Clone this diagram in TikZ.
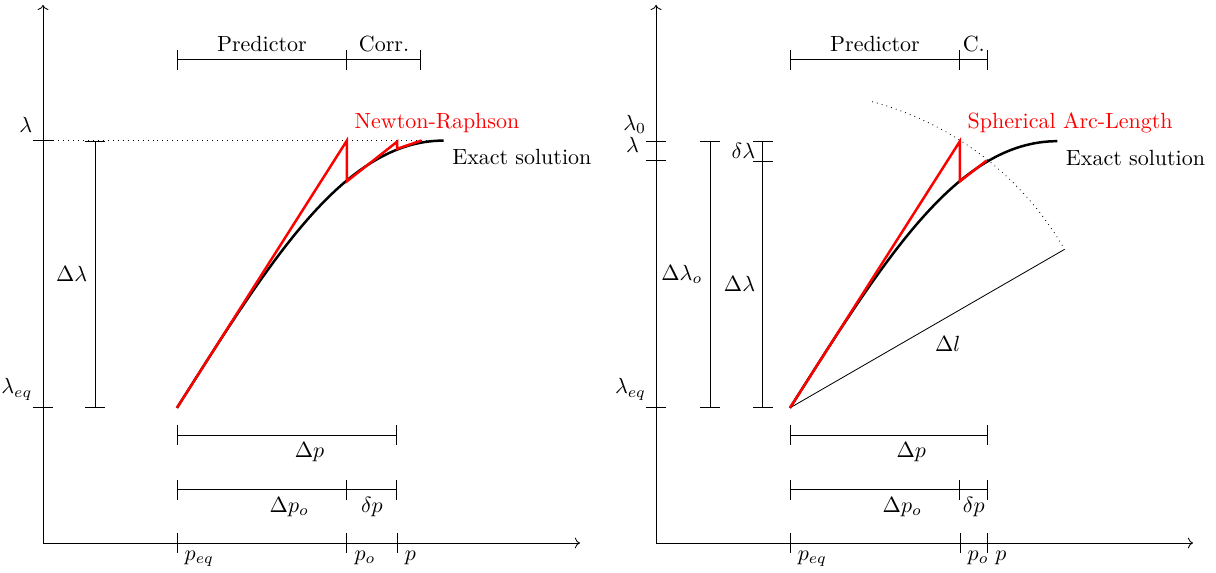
\documentclass[tikz,border=0pt]{standalone}
\usetikzlibrary{arrows.meta}
\tikzset{
  dimen/.style={{Bar[width=9.6pt]}-{Bar[width=9.6pt]}},
  dimenr/.style={-{Bar[width=9.6pt]}},
  solution/.style={very thick},
  iterate/.style={very thick,red},
  every node/.append style={scale=1.06},
}
\begin{document}
\begin{tikzpicture}
\useasboundingbox (-0.729,-0.4915) rectangle (19.88,9.203);
% Newton-Raphson
\coordinate (peq) at (2.27,2.29);
\draw[->] (0,0) -- (9.1,0);
\draw[->] (0,0) -- (0,9.12);
\draw (-.17,6.82) -- (.17,6.82) (-.05,6.82) node[above left] (lam) {$\lambda$};
\draw (-.17,2.29) -- (.17,2.29) (-.05,2.29) node[above left] (lameq) {$\lambda_{eq}$};
\draw[dotted] (0,6.82) -- (6.79,6.82);
\draw[dimen] (.88,2.29) -- node[left] (dlam) {$\Delta\lambda$} (.88,6.82);
\draw[solution] (peq) .. controls (3.856,4.786) and (5.095,6.82) .. (6.79,6.82) node[below right] (exact) {Exact solution};
\draw[iterate] (peq) -- (5.15,6.82) -- (5.15,6.13) -- (6.0,6.80) -- (6.0,6.68) -- (6.41,6.82);
\node[red,above right] (nr) at (5.15,6.82) {Newton-Raphson};
\draw[dimen] (2.27,8.19) -- node[above] (pred) {Predictor} (5.15,8.19);
\draw[dimenr] (5.15,8.19) -- node[above] (corr) {Corr.} (6.41,8.19);
\draw[dimen] (2.27,1.83) -- node[below right] (dp) {$\Delta p$} (6.0,1.83);
\draw[dimen] (2.27,.9) -- node[below right] (dpo) {$\Delta p_o$} (5.15,.9);
\draw[dimenr] (5.15,.9) -- node[below] (ddp) {$\delta p$} (6.0,.9);
\foreach \x/\t [count=\i] in {2.27/p_{eq},5.15/p_o,6.0/p}
  \draw (\x,.17) -- (\x,-.17) (\x,0) node[below right] (pa\i) {$\t$};
% Spherical arc-length
\begin{scope}[xshift=10.39cm]
\coordinate (qeq) at (2.27,2.29);
\draw[->] (0,0) -- (9.1,0);
\draw[->] (0,0) -- (0,9.12);
\draw (-.17,6.81) -- (.17,6.81) (-.04,6.81) node[above left] (lamo) {$\lambda_0$};
\draw (-.17,6.48) -- (.17,6.48) (-.16,6.48) node[above left] (lamb) {$\lambda$};
\draw (-.17,2.29) -- (.17,2.29) (-.04,2.29) node[above left] (lameqb) {$\lambda_{eq}$};
\draw[dimen] (.915,2.29) -- node[left] (dlamo) {$\Delta\lambda_o$} (.915,6.81);
\draw[dimen] (1.81,2.29) -- node[left] (dlamb) {$\Delta\lambda$} (1.81,6.48);
\draw[dimenr] (1.81,6.48) -- node[left] (ddlam) {$\delta\lambda$} (1.81,6.81);
\draw[dotted] (qeq) ++(75:5.373) arc[start angle=75,end angle=30,radius=5.373];
\draw (qeq) -- node[below right] (dl) {$\Delta l$} ++(30:5.373);
\draw[solution] (qeq) .. controls (3.856,4.786) and (5.095,6.81) .. (6.80,6.81) node[below right] (exactb) {Exact solution};
\draw[iterate] (qeq) -- (5.15,6.81) -- (5.15,6.13) -- (5.6,6.48);
\node[red,above right] (sal) at (5.15,6.81) {Spherical Arc-Length};
\draw[dimen] (2.27,8.19) -- node[above] (predb) {Predictor} (5.15,8.19);
\draw[dimenr] (5.15,8.19) -- node[above] (corrb) {C.} (5.62,8.19);
\draw[dimen] (2.27,1.83) -- node[below right] (dpb) {$\Delta p$} (5.62,1.83);
\draw[dimen] (2.27,.9) -- node[below right] (dpob) {$\Delta p_o$} (5.15,.9);
\draw[dimenr] (5.15,.9) -- node[below] (ddpb) {$\delta p$} (5.62,.9);
\foreach \x/\t [count=\i] in {2.27/p_{eq},5.15/p_o,5.62/p}
  \draw (\x,.17) -- (\x,-.17) (\x,0) node[below right] (pb\i) {$\t$};
\end{scope}
\end{tikzpicture}
\end{document}
